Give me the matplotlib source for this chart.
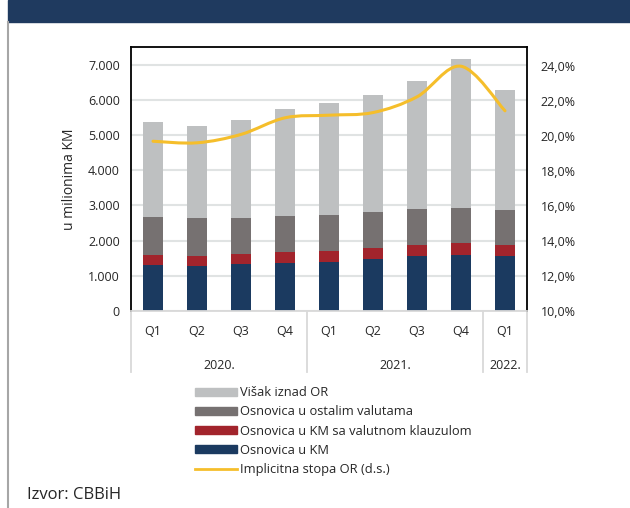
import numpy as np
import matplotlib
matplotlib.use("Agg")
from matplotlib import pyplot as plt
from matplotlib.path import Path
from matplotlib.patches import PathPatch, Patch, Rectangle
from matplotlib.lines import Line2D
from matplotlib.ticker import FuncFormatter, MultipleLocator

plt.rcParams['font.family'] = ['Open Sans', 'DejaVu Sans']

# data (u milionima KM, stopa u %)
quarters = ['Q1', 'Q2', 'Q3', 'Q4', 'Q1', 'Q2', 'Q3', 'Q4', 'Q1']
years = ['2020.', '2021.', '2022.']
year_sizes = [4, 4, 1]
osnovica_km = [1295, 1267, 1324, 1362, 1390, 1476, 1552, 1590, 1552]
osnovica_klauzula = [286, 295, 295, 305, 305, 305, 315, 334, 324]
osnovica_ostale = [1086, 1067, 1019, 1019, 1029, 1029, 1019, 1009, 991]
visak = [2695, 2638, 2791, 3057, 3171, 3333, 3657, 4229, 3409]
stopa = [19.71, 19.62, 20.10, 21.05, 21.20, 21.35, 22.25, 24.00, 21.45]

labels = ['Višak iznad OR', 'Osnovica u ostalim valutama',
          'Osnovica u KM sa valutnom klauzulom', 'Osnovica u KM',
          'Implicitna stopa OR (d.s.)']

c_visak = '#BEC0C1'
c_ostale = '#767171'
c_klauz = '#A2242C'
c_km = '#1B3A60'
c_line = '#F5BE2B'
c_banner = '#1F3A5F'
c_txt = '#262626'

fig = plt.figure(figsize=(6.3, 5.08), dpi=100)

# header bar and left border
fig.patches.append(Rectangle((8 / 630, 1 - 22 / 508), 1, 22 / 508,
                             transform=fig.transFigure, color=c_banner, zorder=0))
fig.add_artist(Line2D([7.5 / 630, 7.5 / 630], [0, 1 - 22 / 508],
                      transform=fig.transFigure, color='#A6A6A6', lw=1.5))

ax = fig.add_axes([131 / 630, 197 / 508, 396 / 630, 264 / 508])
x = np.arange(len(quarters))
w = 0.45
b1 = np.array(osnovica_km)
b2 = b1 + np.array(osnovica_klauzula)
b3 = b2 + np.array(osnovica_ostale)
ax.bar(x, osnovica_km, w, color=c_km, zorder=2)
ax.bar(x, osnovica_klauzula, w, bottom=b1, color=c_klauz, zorder=2)
ax.bar(x, osnovica_ostale, w, bottom=b2, color=c_ostale, zorder=2)
ax.bar(x, visak, w, bottom=b3, color=c_visak, zorder=2)

ax.set_xlim(-0.5, len(quarters) - 0.5)
ax.set_ylim(0, 7500)
ax.yaxis.set_major_locator(MultipleLocator(1000))
ax.yaxis.set_major_formatter(FuncFormatter(lambda v, p: f'{int(v):,}'.replace(',', '.')))
ax.grid(axis='y', color='#E0E3E3', lw=1.5, zorder=0)
ax.set_xticks(x)
ax.set_xticklabels(quarters)
ax.tick_params(axis='x', length=0, pad=10, labelsize=9, colors=c_txt)
ax.tick_params(axis='y', length=0, pad=8, labelsize=9, colors=c_txt)
for s in ['left', 'top', 'right']:
    ax.spines[s].set_color('black')
    ax.spines[s].set_linewidth(1.3)
ax.spines['bottom'].set_color('#D9D9D9')
ax.spines['bottom'].set_linewidth(1.3)
ax.set_ylabel('u milionima KM', fontsize=10, color=c_txt, labelpad=8)

# category separators and year labels
trans = ax.get_xaxis_transform()
edges = np.concatenate([[0], np.cumsum(year_sizes)]) - 0.5
for e in edges:
    ax.plot([e, e], [0, -0.232], transform=trans, color='#D9D9D9', lw=1.3, clip_on=False)
for i, yr in enumerate(years):
    ax.text((edges[i] + edges[i + 1]) / 2, -0.205, yr, transform=trans,
            ha='center', va='center', fontsize=9, color=c_txt)

# right axis with smoothed line
ax2 = ax.twinx()
ax2.set_ylim(10, 25.1)
ax2.yaxis.set_major_locator(MultipleLocator(2))
ax2.yaxis.set_major_formatter(FuncFormatter(lambda v, p: f'{v:.1f}%'.replace('.', ',')))
ax2.tick_params(axis='y', length=0, pad=10, labelsize=9, colors=c_txt)
for s in ax2.spines.values():
    s.set_visible(False)

pts = np.column_stack([x, stopa])
ext = np.vstack([pts[0], pts, pts[-1]])
verts = [tuple(pts[0])]
codes = [Path.MOVETO]
for i in range(len(pts) - 1):
    p0, p1, p2, p3 = ext[i], ext[i + 1], ext[i + 2], ext[i + 3]
    verts += [tuple(p1 + (p2 - p0) / 6), tuple(p2 - (p3 - p1) / 6), tuple(p2)]
    codes += [Path.CURVE4] * 3
ax2.add_patch(PathPatch(Path(verts, codes), fill=False, edgecolor=c_line,
                        lw=2.2, capstyle='round', zorder=3))

# legend
handles = [Patch(color=c_visak), Patch(color=c_ostale), Patch(color=c_klauz),
           Patch(color=c_km), Line2D([], [], color=c_line, lw=2)]
fig.legend(handles, labels, loc='upper left', bbox_to_anchor=(190 / 630, 1 - 381 / 508),
           frameon=False, fontsize=9.3, handlelength=3.2, handleheight=0.6,
           handletextpad=0.3, labelspacing=0.48, borderaxespad=0,
           labelcolor=c_txt)

fig.text(27 / 630, 1 - 495 / 508, 'Izvor: CBBiH', fontsize=12, color=c_txt, va='center')

fig.savefig('out.png', dpi=100)
